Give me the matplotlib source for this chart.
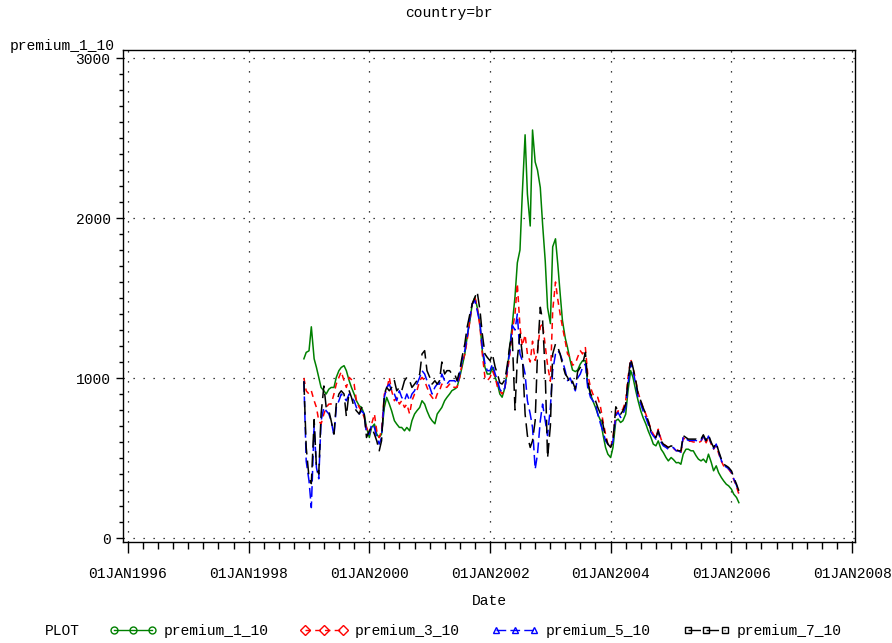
import numpy as np
import pandas as pd
import matplotlib
matplotlib.use("Agg")
import matplotlib.pyplot as plt
import matplotlib.dates as mdates
from matplotlib.lines import Line2D
from matplotlib.ticker import MultipleLocator, FuncFormatter

# semi-monthly readings (1st and 15th), Dec 1998 - Feb 2006
dates = pd.date_range("1998-12-01", periods=174, freq="SMS")

premium_1_10 = [
    1120, 1160, 1170, 1320, 1120, 1066, 1004, 941, 920, 900,
    930, 941, 941, 1004, 1046, 1066, 1077, 1046, 983, 941,
    900, 858, 826, 816, 775, 691, 628, 691, 712, 649,
    628, 649, 816, 879, 837, 795, 733, 712, 691, 691,
    670, 691, 670, 733, 775, 795, 816, 858,
    837, 795, 754, 733, 714, 775, 795, 816, 858, 879,
    900, 921, 931, 942, 1004, 1067, 1150, 1255, 1359, 1463,
    1505, 1442, 1338, 1171, 1067, 1025, 1025, 1067, 1004, 962,
    900, 880, 940, 1050, 1200, 1330, 1510, 1720,
    1800, 2150, 2520, 2150, 1950, 2550, 2350, 2300, 2190, 1960,
    1730, 1440, 1340, 1820, 1870, 1710, 1530, 1360, 1250, 1190,
    1110, 1050, 1040, 1050,
    1087, 1108, 1108, 962, 900, 858, 816, 774, 733, 649,
    566, 524, 503, 566, 733, 743, 722, 733, 774, 920,
    1046, 1004, 920, 858, 795, 753, 712, 670, 628, 587,
    576, 607, 555, 534, 503, 482, 503, 490, 470, 472,
    461, 524, 555, 555, 545, 545, 514, 493, 482, 493,
    472, 524, 472, 420, 451, 409, 378, 357, 336, 326,
    305, 274, 253, 221,
]

premium_3_10 = [
    1000, 920, 900, 920, 858, 816, 733, 712, 775, 816,
    837, 837, 900, 962, 1004, 1040, 983, 941, 1004, 990,
    962, 858, 816, 795, 754, 691, 649, 712, 775, 670,
    628, 670, 900, 920, 1004, 920, 858, 879, 837, 858,
    816, 837, 775, 858, 900, 920, 983, 1004,
    983, 942, 900, 879, 858, 900, 921, 962, 942, 942,
    962, 942, 942, 942, 1004, 1088, 1150, 1234, 1359, 1463,
    1505, 1442, 1317, 1150, 1004, 983, 1004, 1046, 1004, 942,
    921, 900, 940, 1030, 1150, 1290, 1400, 1590,
    1320, 1200, 1270, 1150, 1100, 1230, 1110, 1170, 1320, 1340,
    1200, 1080, 980, 1420, 1600, 1490, 1400, 1320, 1230, 1150,
    1130, 1080, 1090, 1130,
    1171, 1150, 1190, 1025, 941, 900, 879, 879, 816, 733,
    649, 587, 566, 628, 774, 795, 785, 805, 858, 1004,
    1119, 1066, 983, 910, 858, 816, 774, 733, 680, 649,
    628, 680, 618, 587, 576, 566, 566, 560, 545, 550,
    530, 625, 615, 605, 605, 600, 600, 595, 605, 630,
    595, 630, 585, 555, 580, 530, 480, 450, 440, 430,
    405, 365, 320, 274,
]

premium_5_10 = [
    980, 480, 357, 190, 700, 440, 370, 733, 816, 795,
    775, 733, 640, 816, 858, 900, 879, 858, 900, 879,
    858, 816, 775, 795, 775, 649, 649, 712, 691, 628,
    587, 628, 879, 941, 962, 920, 900, 858, 920, 879,
    858, 900, 858, 900, 920, 962, 1004, 1046,
    1025, 983, 942, 900, 942, 962, 962, 1025, 983, 962,
    983, 983, 983, 962, 1025, 1108, 1171, 1255, 1380, 1463,
    1484, 1422, 1338, 1192, 1088, 1046, 1046, 1088, 1025, 983,
    930, 910, 940, 1060, 1170, 1330, 1300, 1400,
    1150, 1108, 1025, 858, 775, 691, 430, 524, 733, 837,
    733, 640, 816, 1046, 1150, 1171, 1150, 1108, 1046, 983,
    1000, 960, 920, 1000,
    1025, 1066, 1087, 941, 879, 858, 837, 774, 712, 670,
    607, 587, 566, 607, 764, 785, 753, 774, 816, 962,
    1098, 1046, 962, 879, 837, 795, 753, 712, 660, 639,
    618, 670, 597, 576, 566, 555, 566, 565, 545, 545,
    535, 632, 620, 610, 610, 610, 610, 600, 610, 637,
    600, 637, 590, 558, 587, 537, 485, 453, 443, 433,
    412, 370, 328, 284,
]

premium_7_10 = [
    980, 566, 378, 340, 740, 440, 400, 775, 950, 816,
    795, 733, 649, 837, 900, 920, 900, 760, 920, 879,
    816, 795, 775, 816, 775, 628, 670, 691, 649, 607,
    545, 607, 900, 941, 920, 941, 983, 920, 941, 920,
    983, 1004, 983, 941, 962, 983, 1025, 1150,
    1171, 1046, 1004, 962, 983, 962, 983, 1100, 1025, 1046,
    1046, 1025, 1025, 983, 1046, 1129, 1213, 1317, 1401, 1463,
    1505, 1540, 1422, 1275, 1150, 1129, 1108, 1150, 1067, 1025,
    970, 962, 990, 1080, 1210, 1260, 800, 1120,
    1275, 1150, 775, 640, 566, 608, 733, 1150, 1442, 1359,
    1025, 500, 700, 1150, 1213, 1192, 1150, 1088, 1025, 1004,
    960, 980, 930, 1040,
    1066, 1087, 1160, 983, 900, 879, 858, 816, 774, 712,
    628, 587, 566, 607, 820, 795, 774, 795, 837, 983,
    1120, 1066, 983, 900, 858, 816, 774, 733, 670, 649,
    628, 670, 607, 587, 576, 566, 576, 570, 550, 545,
    545, 640, 628, 618, 618, 618, 618, 608, 618, 645,
    608, 645, 597, 566, 595, 545, 493, 461, 451, 441,
    420, 378, 336, 295,
]

series = ["premium_1_10", "premium_3_10", "premium_5_10", "premium_7_10"]
values = [premium_1_10, premium_3_10, premium_5_10, premium_7_10]
colors = ["#008000", "#ff0000", "#0000ff", "#000000"]
styles = ["-", (0, (4, 3)), (0, (7, 3)), (0, (9, 4))]
markers = ["o", "D", "^", "s"]

font = {"family": "Liberation Mono", "size": 10.5}

fig = plt.figure(figsize=(8.92, 6.43), dpi=100)
ax = fig.add_axes([123 / 892, 1 - 542 / 643, (855 - 123) / 892, (542 - 50) / 643])

for name, vals, c, ls in zip(series, values, colors, styles):
    ax.plot(dates, vals, color=c, linestyle=ls, linewidth=1.1)

ax.set_xlim(pd.Timestamp("1995-12-02"), pd.Timestamp("2008-01-19"))
ax.set_ylim(-25, 3050)

ax.xaxis.set_major_locator(mdates.YearLocator(2))
ax.xaxis.set_minor_locator(mdates.MonthLocator(bymonth=[1, 4, 7, 10]))
ax.xaxis.set_major_formatter(
    FuncFormatter(lambda x, pos: mdates.num2date(x).strftime("%d%b%Y").upper()))
ax.yaxis.set_major_locator(MultipleLocator(1000))
ax.yaxis.set_minor_locator(MultipleLocator(100))

ax.tick_params(axis="x", which="major", length=8, width=1, pad=10)
ax.tick_params(axis="x", which="minor", length=5, width=1)
ax.tick_params(axis="y", which="major", length=5, width=1, pad=4)
ax.tick_params(axis="y", which="minor", length=3, width=1)
for lab in ax.get_xticklabels() + ax.get_yticklabels():
    lab.set_fontfamily(font["family"])
    lab.set_fontsize(font["size"])

ax.grid(True, which="major", color="black", linestyle=(0, (1, 7)), linewidth=0.9)
for sp in ax.spines.values():
    sp.set_linewidth(1.0)

fig.text(10 / 892, 1 - 46 / 643, "premium_1_10", ha="left", va="center", fontdict=font)
fig.text(449 / 892, 1 - 13 / 643, "country=br", ha="center", va="center", fontdict=font)
fig.text(489 / 892, 1 - 601 / 643, "Date", ha="center", va="center", fontdict=font)
fig.text(45 / 892, 1 - 631 / 643, "PLOT", ha="left", va="center", fontdict=font)

handles = [Line2D([0], [0], color=c, linestyle=ls, linewidth=1.0, marker=m,
                  markersize=5, markerfacecolor="none", markeredgecolor=c)
           for c, ls, m in zip(colors, styles, markers)]
fig.legend(handles, series, loc="center left", bbox_to_anchor=(110 / 892, 1 - 631 / 643),
           ncol=4, frameon=False, handlelength=3.2, handletextpad=0.5,
           columnspacing=2.2, numpoints=3, borderpad=0, borderaxespad=0,
           prop={"family": "Liberation Mono", "size": 10.5})

fig.savefig("out.png", dpi=100)
